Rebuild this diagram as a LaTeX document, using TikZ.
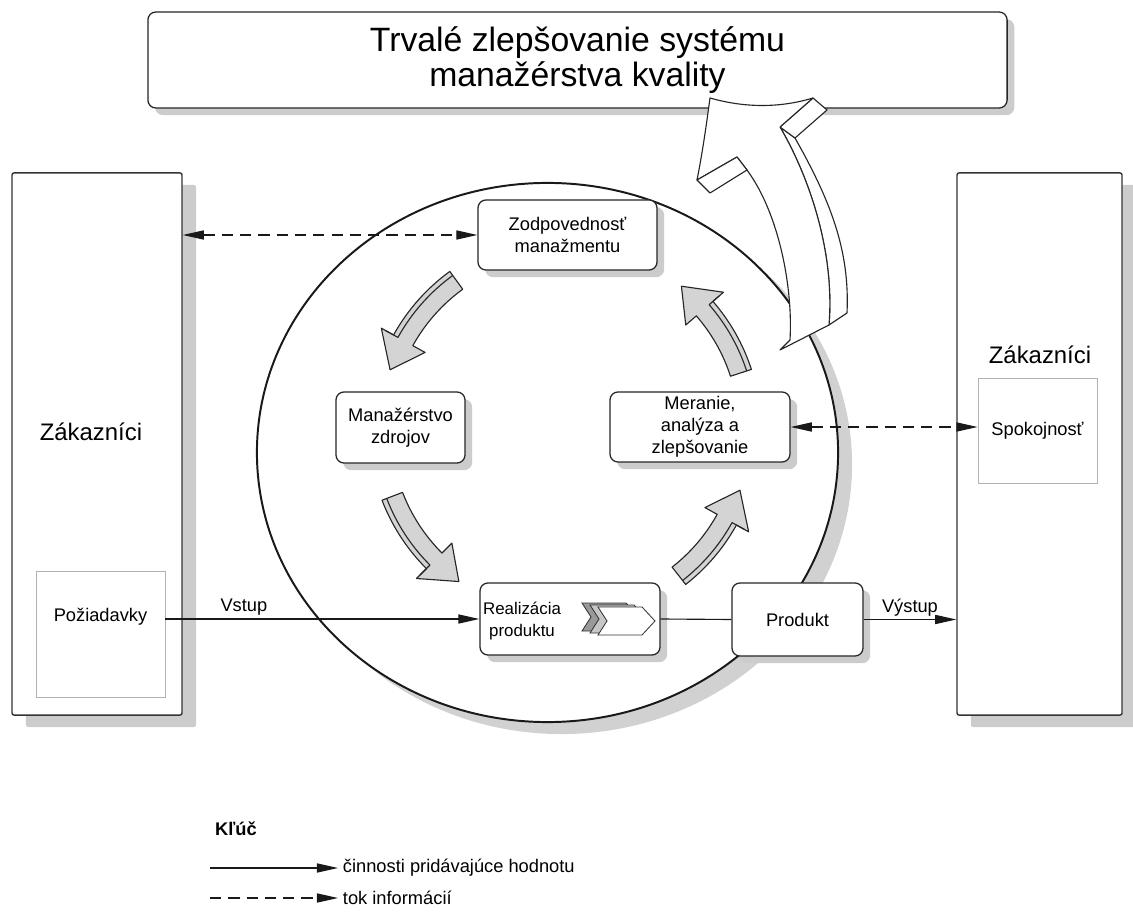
\documentclass[tikz,border=0pt]{standalone}
\usepackage{fontspec}
\setmainfont{Liberation Sans}
\usetikzlibrary{arrows.meta,shapes.geometric,shadows}

\begin{document}
\begin{tikzpicture}[x=0.025cm,y=-0.025cm,
    >={Triangle[length=15pt,width=6.5pt]},
    lbl/.style={font=\fontsize{13}{15.5}\selectfont, align=center},
    box/.style={lbl, draw=black!85, line width=0.9pt, rounded corners=0.2cm, fill=white, inner sep=2pt,
      drop shadow={shadow xshift=0.18cm, shadow yshift=-0.18cm, fill=black!20, opacity=1}},
    custbox/.style={draw=black!80, line width=1pt, rounded corners=1.5pt, fill=white,
      minimum height=13.55cm, drop shadow={shadow xshift=0.35cm, shadow yshift=-0.3cm, fill=black!20, opacity=1}},
    inbox/.style={lbl, draw=black!30, line width=0.6pt, fill=white},
    flow/.style={line width=0.8pt, draw=black!90},
    info/.style={flow, dash pattern=on 8pt off 5pt},
    cyclearr/.style={fill=black!17, draw=black!85, line width=0.8pt, line join=round},
    bigarr/.style={fill=white, draw=black!85, line width=0.8pt, line join=round}]

  \useasboundingbox (0,0) rectangle (1133,912);

  % customers
  \node[custbox, minimum width=4.25cm] (zakL) at (97,444) {};
  \node[custbox, minimum width=4.125cm] (zakR) at (1039.5,444) {};
  \node[font=\fontsize{17}{20}\selectfont] (zakLtext) at (91,432) {Zákazníci};
  \node[font=\fontsize{17}{20}\selectfont] (zakRtext) at (1040,355) {Zákazníci};
  \node[inbox, minimum width=3.225cm, minimum height=3.15cm] (poz) at (100.5,634) {};
  \node[lbl] (poztext) at (100.5,617) {Požiadavky};
  \node[inbox, minimum width=2.975cm, minimum height=2.625cm] (spok) at (1037.5,430.5) {Spokojnosť};

  % top goal
  \node[box, font=\fontsize{24}{25}\selectfont, minimum width=21.475cm, minimum height=2.4cm] (goal) at (577.5,60)
    {Trvalé zlepšovanie systému\\manažérstva kvality};

  % the process circle
  \node[ellipse, draw=black!90, line width=1.4pt, fill=white, minimum width=14.525cm, minimum height=13.475cm,
    drop shadow={shadow xshift=0.35cm, shadow yshift=-0.3cm, fill=black!18, opacity=1}] (qms) at (547.5,452.5) {};

  \begin{scope}
    \node[box, minimum width=4.475cm, minimum height=1.75cm] (zodp) at (567.5,235) {Zodpovednosť\\manažmentu};
    \node[box, minimum width=3.225cm, minimum height=1.775cm] (zdroj) at (400.5,427.5) {Manažérstvo\\zdrojov};
    \node[box, minimum width=4.5cm, minimum height=1.75cm] (meranie) at (700,427) {Meranie,\\analýza a\\zlepšovanie};
    \node[box, minimum width=4.5cm, minimum height=1.8cm] (real) at (570,619) {};
    \node[lbl, font=\fontsize{12}{15}\selectfont] (realtext) at (522,621) {Realizácia\\produktu};
    \node[box, minimum width=3.275cm, minimum height=1.825cm] (prod) at (797.5,619.5) {Produkt};
  \end{scope}

  % process chevrons
  \foreach \d/\c in {16/black!40, 8/black!22, 0/white}
    \filldraw[fill=\c, draw=black!80, line width=0.6pt, shift={(-\d,-\d/4)}]
      (598,607) -- (642,607) -- (655,621) -- (642,635) -- (598,635) -- (607,621) -- cycle;

  % cycle arrows
  \begin{scope}[shift={(565,430)}, yscale=-1]
    \foreach \a/\b in {126/161, 201/235, 308/341, 18/51} {
      \pgfmathsetmacro{\h}{\b-10}
      \filldraw[cyclearr] (\a:174) arc[start angle=\a, end angle=\h, radius=174] -- (\h:160) -- (\b:185)
        -- (\h:210) -- (\h:196) arc[start angle=\h, end angle=\a, radius=196] -- cycle;
      \draw[cyclearr, fill=none] (\a:191) arc[start angle=\a, end angle=\h, radius=191] -- (\h:205);
    }
  \end{scope}

  % improvement arrow
  \begin{scope}[bigarr]
    \filldraw (780,127) -- (795,138) .. controls (830,200) and (850,250) .. (847,313) -- (829,325)
      .. controls (835,250) and (808,175) .. (780,127) -- cycle;
    \filldraw (813,98) -- (827,110) -- (795,138) -- (780,127) -- cycle;
    \filldraw (780,350) -- (790,340) .. controls (793,290) and (780,215) .. (747,170) -- (737,157) -- (697,180)
      .. controls (703,150) and (707,120) .. (710,98) .. controls (745,108) and (780,108) .. (813,98) -- (780,127)
      .. controls (808,175) and (835,250) .. (829,325) -- cycle;
    \filldraw (697,180) -- (710,193) -- (747,170) -- (737,157) -- cycle;
  \end{scope}

  % flows
  \draw[info, <->] (zakL.east |- zodp.west) -- (zodp.west);
  \draw[info, <->] (meranie.east) -- (meranie.east -| spok.west);
  \draw[flow, ->] (poz.east |- real.west) -- (real.west) node[lbl, pos=0.25, above, inner sep=2pt] (vstup) {Vstup};
  \draw[flow] (real.east) -- (prod.west);
  \draw[flow, ->] (prod.east) -- (zakR.west |- prod.east) node[lbl, midway, above, inner sep=2pt] (vystup) {Výstup};

  % key
  \node[font=\bfseries\fontsize{13}{15}\selectfont] (kluc) at (236,829) {Kľúč};
  \node[lbl, anchor=west] (kval) at (338,868) {činnosti pridávajúce hodnotu};
  \node[lbl, anchor=west] (kinf) at (338,898) {tok informácií};
  \coordinate (kvalstart) at (210,868);
  \coordinate (kinfstart) at (210,898);
  \draw[flow, ->] (kvalstart) -- (kval.west);
  \draw[info, ->] (kinfstart) -- (kinf.west);

\end{tikzpicture}
\end{document}
